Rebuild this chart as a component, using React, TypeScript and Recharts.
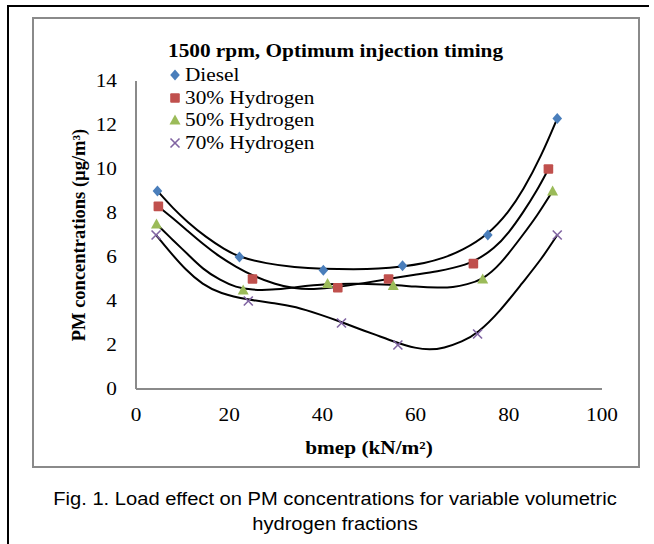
import React from 'react'
import { ComposedChart, Line, Scatter, XAxis, YAxis } from 'recharts'

const xTicks = [0, 20, 40, 60, 80, 100]
const yTicks = [0, 2, 4, 6, 8, 10, 12, 14]

const seriesNames = ['Diesel', '30% Hydrogen', '50% Hydrogen', '70% Hydrogen']
const seriesColors = ['#4A7EBB', '#C0504D', '#9BBB59', '#8064A2']

// measured points
const diesel = [
  { x: 4.6, y: 9.0 }, { x: 22.2, y: 6.0 }, { x: 40.2, y: 5.4 },
  { x: 57.2, y: 5.6 }, { x: 75.5, y: 7.0 }, { x: 90.4, y: 12.3 },
]
const h30 = [
  { x: 4.8, y: 8.3 }, { x: 25.0, y: 5.0 }, { x: 43.3, y: 4.6 },
  { x: 54.2, y: 5.0 }, { x: 72.4, y: 5.7 }, { x: 88.5, y: 10.0 },
]
const h50 = [
  { x: 4.4, y: 7.5 }, { x: 23.0, y: 4.5 }, { x: 41.1, y: 4.8 },
  { x: 55.2, y: 4.7 }, { x: 74.4, y: 5.0 }, { x: 89.4, y: 9.0 },
]
const h70 = [
  { x: 4.3, y: 7.0 }, { x: 24.1, y: 4.0 }, { x: 44.1, y: 3.0 },
  { x: 56.2, y: 2.0 }, { x: 73.3, y: 2.5 }, { x: 90.4, y: 7.0 },
]

// trendlines
const dieselTrend = [
  { x: 4.6, y: 9.0 }, { x: 8, y: 8.2 }, { x: 11, y: 7.6 }, { x: 15, y: 6.9 },
  { x: 19, y: 6.35 }, { x: 22, y: 6.0 }, { x: 28, y: 5.7 }, { x: 34, y: 5.53 },
  { x: 40, y: 5.46 }, { x: 47, y: 5.44 }, { x: 52, y: 5.46 }, { x: 57, y: 5.56 },
  { x: 62, y: 5.72 }, { x: 66, y: 5.95 }, { x: 70, y: 6.3 }, { x: 75.5, y: 7.0 },
  { x: 80, y: 8.05 }, { x: 83, y: 9.0 }, { x: 87, y: 10.6 }, { x: 90.4, y: 12.3 },
]
const h30Trend = [
  { x: 4.8, y: 8.3 }, { x: 8, y: 7.75 }, { x: 11, y: 7.2 }, { x: 14.3, y: 6.6 },
  { x: 18, y: 6.0 }, { x: 21.4, y: 5.56 }, { x: 25, y: 5.15 }, { x: 30, y: 4.75 },
  { x: 34, y: 4.56 }, { x: 38, y: 4.53 }, { x: 43, y: 4.62 }, { x: 48, y: 4.78 },
  { x: 54, y: 5.0 }, { x: 60, y: 5.2 }, { x: 65, y: 5.36 }, { x: 68, y: 5.5 },
  { x: 72.4, y: 5.75 }, { x: 77, y: 6.4 }, { x: 80, y: 7.1 }, { x: 83, y: 8.0 },
  { x: 86, y: 9.0 }, { x: 88.5, y: 10.0 },
]
const h50Trend = [
  { x: 4.4, y: 7.5 }, { x: 8, y: 6.75 }, { x: 11, y: 6.15 }, { x: 14.3, y: 5.45 },
  { x: 18, y: 4.95 }, { x: 21.4, y: 4.62 }, { x: 25, y: 4.5 }, { x: 29, y: 4.5 },
  { x: 34, y: 4.62 }, { x: 41, y: 4.78 }, { x: 48, y: 4.8 }, { x: 55, y: 4.74 },
  { x: 60, y: 4.65 }, { x: 65, y: 4.6 }, { x: 68, y: 4.62 }, { x: 71, y: 4.75 },
  { x: 74.4, y: 4.98 }, { x: 78, y: 5.6 }, { x: 83, y: 7.0 }, { x: 86, y: 7.85 },
  { x: 89.4, y: 9.0 },
]
const h70Trend = [
  { x: 4.3, y: 7.0 }, { x: 7, y: 6.3 }, { x: 10.7, y: 5.4 }, { x: 14.3, y: 4.75 },
  { x: 18, y: 4.35 }, { x: 24, y: 4.05 }, { x: 30, y: 3.9 }, { x: 34, y: 3.76 },
  { x: 40, y: 3.35 }, { x: 44, y: 3.05 }, { x: 48, y: 2.72 }, { x: 51, y: 2.5 },
  { x: 56, y: 2.1 }, { x: 60, y: 1.85 }, { x: 63, y: 1.78 }, { x: 66, y: 1.85 },
  { x: 70, y: 2.15 }, { x: 73.3, y: 2.53 }, { x: 78, y: 3.5 }, { x: 83, y: 4.85 },
  { x: 87, y: 5.9 }, { x: 90.4, y: 7.0 },
]

const SX = 1.15
const serif = '"Liberation Serif", "Times New Roman", serif'
const sans = '"Liberation Sans", Arial, sans-serif'

const Diamond = ({ cx, cy }: any) => (
  <path d={`M${cx},${cy - 5.5}L${cx + 4.8},${cy}L${cx},${cy + 5.5}L${cx - 4.8},${cy}Z`} fill={seriesColors[0]} />
)
const Square = ({ cx, cy }: any) => (
  <rect x={cx - 4.8} y={cy - 4.8} width={9.6} height={9.6} rx={1} fill={seriesColors[1]} />
)
const Triangle = ({ cx, cy }: any) => (
  <path d={`M${cx},${cy - 5.5}L${cx + 5.5},${cy + 4.5}L${cx - 5.5},${cy + 4.5}Z`} fill={seriesColors[2]} />
)
const Cross = ({ cx, cy }: any) => (
  <g stroke={seriesColors[3]} strokeWidth={1.6}>
    <line x1={cx - 4.5} y1={cy - 4.5} x2={cx + 4.5} y2={cy + 4.5} />
    <line x1={cx - 4.5} y1={cy + 4.5} x2={cx + 4.5} y2={cy - 4.5} />
  </g>
)
const shapes = [Diamond, Square, Triangle, Cross]

function YTick({ x, y, payload }: any) {
  return (
    <g transform={`translate(${x},${y}) scale(${SX},1)`}>
      <text textAnchor="end" dy={6.3} fontFamily={serif} fontSize={18.5} fill="#000">
        {payload.value}
      </text>
    </g>
  )
}

function XTick({ x, y, payload }: any) {
  return (
    <g transform={`translate(${x},${y}) scale(${SX},1)`}>
      <text textAnchor="middle" dy={24.3} fontFamily={serif} fontSize={18.5} fill="#000">
        {payload.value}
      </text>
    </g>
  )
}

export default function App() {
  const stretched = { transform: `scaleX(${SX})`, transformOrigin: 'left center', whiteSpace: 'nowrap' as const }
  return (
    <div style={{ position: 'absolute', left: 0, top: 0, width: 654, height: 544, overflow: 'hidden', background: '#fff' }}>
      {/* outer black frame */}
      <div style={{ position: 'absolute', left: 7, top: 5, width: 640, height: 600, borderLeft: '2px solid #000', borderTop: '2px solid #000' }} />
      {/* chart area frame */}
      <div style={{ position: 'absolute', left: 32, top: 17, width: 604, height: 447, border: '2px solid #8a8a8a' }} />

      <div style={{ position: 'absolute', left: 0, top: 0 }}>
        <ComposedChart width={654} height={544} margin={{ top: 81, right: 52, bottom: 125, left: 76 }}>
          <XAxis
            dataKey="x"
            type="number"
            domain={[0, 100]}
            ticks={xTicks}
            tickLine={false}
            tickMargin={2}
            height={30}
            axisLine={{ stroke: '#8a8a8a', strokeWidth: 2 }}
            tick={<XTick />}
            allowDataOverflow
          />
          <YAxis
            dataKey="y"
            type="number"
            domain={[0, 14]}
            ticks={yTicks}
            tickLine={false}
            tickMargin={13}
            width={60}
            axisLine={{ stroke: '#8a8a8a', strokeWidth: 2 }}
            tick={<YTick />}
            allowDataOverflow
          />
          <Scatter data={diesel} dataKey="y" shape={shapes[0]} isAnimationActive={false} />
          <Scatter data={h30} dataKey="y" shape={shapes[1]} isAnimationActive={false} />
          <Scatter data={h50} dataKey="y" shape={shapes[2]} isAnimationActive={false} />
          <Scatter data={h70} dataKey="y" shape={shapes[3]} isAnimationActive={false} />
          <Line data={dieselTrend} dataKey="y" type="basis" stroke="#000" strokeWidth={2} dot={false} isAnimationActive={false} />
          <Line data={h30Trend} dataKey="y" type="basis" stroke="#000" strokeWidth={2} dot={false} isAnimationActive={false} />
          <Line data={h50Trend} dataKey="y" type="basis" stroke="#000" strokeWidth={2} dot={false} isAnimationActive={false} />
          <Line data={h70Trend} dataKey="y" type="basis" stroke="#000" strokeWidth={2} dot={false} isAnimationActive={false} />
        </ComposedChart>
      </div>

      {/* y axis title */}
      <div
        style={{
          position: 'absolute', left: 79, top: 235, transform: 'translate(-50%, -50%) rotate(-90deg)',
          fontFamily: serif, fontWeight: 'bold', fontSize: 18.5, whiteSpace: 'nowrap', lineHeight: 1,
        }}
      >
        PM concentrations (µg/m³)
      </div>

      {/* x axis title */}
      <div style={{ position: 'absolute', left: 369, top: 448, transform: `translate(-50%, -50%) scaleX(${SX})`, fontFamily: serif, fontWeight: 'bold', fontSize: 18.5, whiteSpace: 'nowrap', lineHeight: 1 }}>
        bmep (kN/m²)
      </div>

      {/* title + legend */}
      <div style={{ position: 'absolute', left: 168, top: 41, fontFamily: serif, fontWeight: 'bold', fontSize: 18.5, lineHeight: '20px', ...stretched }}>
        1500 rpm, Optimum injection timing
      </div>
      {seriesNames.map((name, i) => {
        const Shape = shapes[i]
        return (
          <div key={name} style={{ position: 'absolute', left: 169, top: 64 + i * 22.7, height: 22, display: 'flex', alignItems: 'center' }}>
            <svg width={13} height={22} style={{ display: 'block' }}>
              <Shape cx={6} cy={11} />
            </svg>
            <div style={{ fontFamily: serif, fontSize: 18.5, lineHeight: '22px', marginLeft: 3, ...stretched }}>{name}</div>
          </div>
        )
      })}

      {/* caption */}
      <div style={{ position: 'absolute', left: 0, width: 670, top: 487, textAlign: 'center', fontFamily: sans, fontSize: 17.5, lineHeight: '25px', color: '#000' }}>
        <div style={{ transform: `scaleX(${SX})` }}>Fig. 1. Load effect on PM concentrations for variable volumetric</div>
        <div style={{ transform: `scaleX(${SX})` }}>hydrogen fractions</div>
      </div>
    </div>
  )
}
